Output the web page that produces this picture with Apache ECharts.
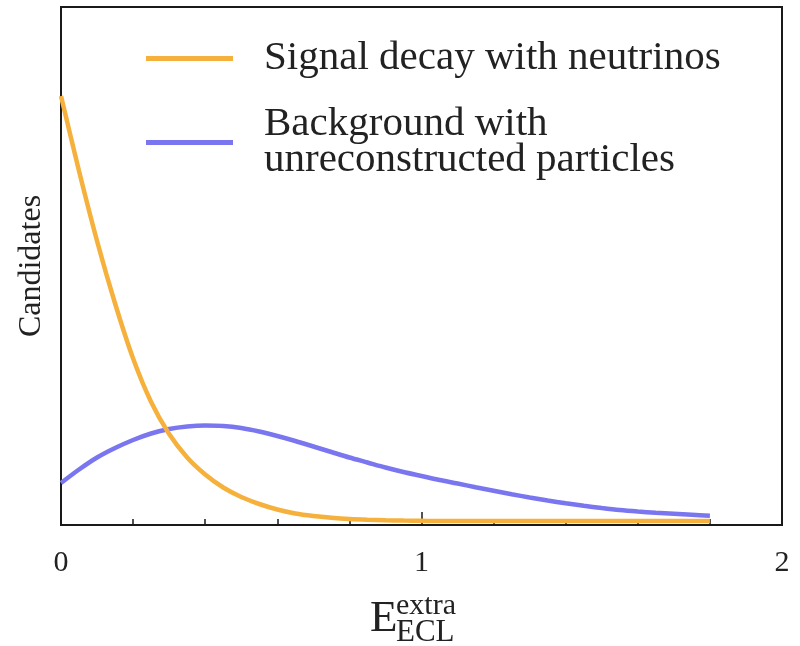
<!DOCTYPE html>
<html>
<head>
<meta charset="utf-8">
<script src="https://cdn.jsdelivr.net/npm/echarts@6/dist/echarts.min.js"></script>
<style>html,body{margin:0;padding:0;background:#fff;}#c{width:800px;height:646px;}</style>
</head>
<body>
<div id="c"></div>
<script>
const xValues = [0, 0.05, 0.1, 0.15, 0.2, 0.25, 0.3, 0.35, 0.4, 0.45, 0.5, 0.55, 0.6, 0.65, 0.7, 0.75, 0.8, 0.85, 0.9, 0.95, 1.0, 1.05, 1.1, 1.15, 1.2, 1.25, 1.3, 1.35, 1.4, 1.45, 1.5, 1.55, 1.6, 1.65, 1.7, 1.75, 1.8];
const signalValues = [8.5, 7.0, 5.6, 4.35, 3.25, 2.38, 1.74, 1.27, 0.93, 0.67, 0.48, 0.34, 0.23, 0.15, 0.10, 0.065, 0.04, 0.025, 0.015, 0.008, 0.004, 0, 0, 0, 0, 0, 0, 0, 0, 0, 0, 0, 0, 0, 0, 0, 0];
const backgroundValues = [0.76, 1.03, 1.27, 1.46, 1.62, 1.75, 1.84, 1.89, 1.91, 1.90, 1.86, 1.79, 1.70, 1.60, 1.49, 1.38, 1.27, 1.17, 1.07, 0.98, 0.90, 0.82, 0.75, 0.675, 0.605, 0.535, 0.47, 0.41, 0.355, 0.305, 0.26, 0.22, 0.19, 0.165, 0.145, 0.125, 0.105];
const seriesNames = ['Signal decay with neutrinos', 'Background with\nunreconstructed particles'];
const xTickLabels = ['0', '1', '2'];

const serif = 'Liberation Serif';
const chart = echarts.init(document.getElementById('c'), null, {renderer: 'canvas'});
const pairs = vals => xValues.map((x, i) => [x, vals[i]]);

chart.setOption({
  animation: false,
  backgroundColor: '#ffffff',
  grid: {left: 61, right: 18, top: 7, bottom: 121, show: true, borderColor: '#1a1a1a', borderWidth: 2, backgroundColor: 'transparent'},
  legend: {
    orient: 'vertical', left: 141, top: 33,
    itemWidth: 87, itemHeight: 14, itemGap: 25,
    textStyle: {fontFamily: serif, fontSize: 41, lineHeight: 36, color: '#222', padding: [0, 0, 0, 26]},
    data: seriesNames.map(n => ({name: n, icon: 'path://M0,0 L100,0 L100,6 L0,6 Z'}))
  },
  xAxis: {
    type: 'value', min: 0, max: 2, interval: 1,
    axisLine: {show: true, onZero: false, lineStyle: {color: '#1a1a1a', width: 2}},
    axisTick: {show: true, inside: true, length: 13, lineStyle: {color: '#1a1a1a', width: 1.5}},
    minorTick: {show: true, splitNumber: 5, length: 6, lineStyle: {color: '#1a1a1a', width: 1.5}},
    splitLine: {show: false},
    axisLabel: {fontFamily: serif, fontSize: 30, color: '#222', margin: 23, formatter: v => xTickLabels[Math.round(v)]}
  },
  yAxis: {
    type: 'value', min: -0.08, max: 10.28,
    axisLine: {show: true, onZero: false, lineStyle: {color: '#1a1a1a', width: 2}},
    axisTick: {show: false}, axisLabel: {show: false}, splitLine: {show: false},
    name: 'Candidates', nameLocation: 'middle', nameRotate: 90, nameGap: 13,
    nameTextStyle: {fontFamily: serif, fontSize: 32, color: '#222'}
  },
  series: [
    {name: seriesNames[0], type: 'line', smooth: 0.3, showSymbol: false, data: pairs(signalValues),
     lineStyle: {color: '#F6B03C', width: 4.5}, itemStyle: {color: '#F6B03C'}, z: 3},
    {name: seriesNames[1], type: 'line', smooth: 0.3, showSymbol: false, data: pairs(backgroundValues),
     lineStyle: {color: '#7A76F0', width: 4.5}, itemStyle: {color: '#7A76F0'}, z: 2}
  ],
  graphic: [
    {type: 'text', left: 370, top: 597, style: {text: 'E', font: '45px "Liberation Serif"', fill: '#222'}},
    {type: 'text', left: 396, top: 591, style: {text: 'extra', font: '30px "Liberation Serif"', fill: '#222'}},
    {type: 'text', left: 396, top: 617, style: {text: 'ECL', font: '31px "Liberation Serif"', fill: '#222'}}
  ]
});
</script>
</body>
</html>
